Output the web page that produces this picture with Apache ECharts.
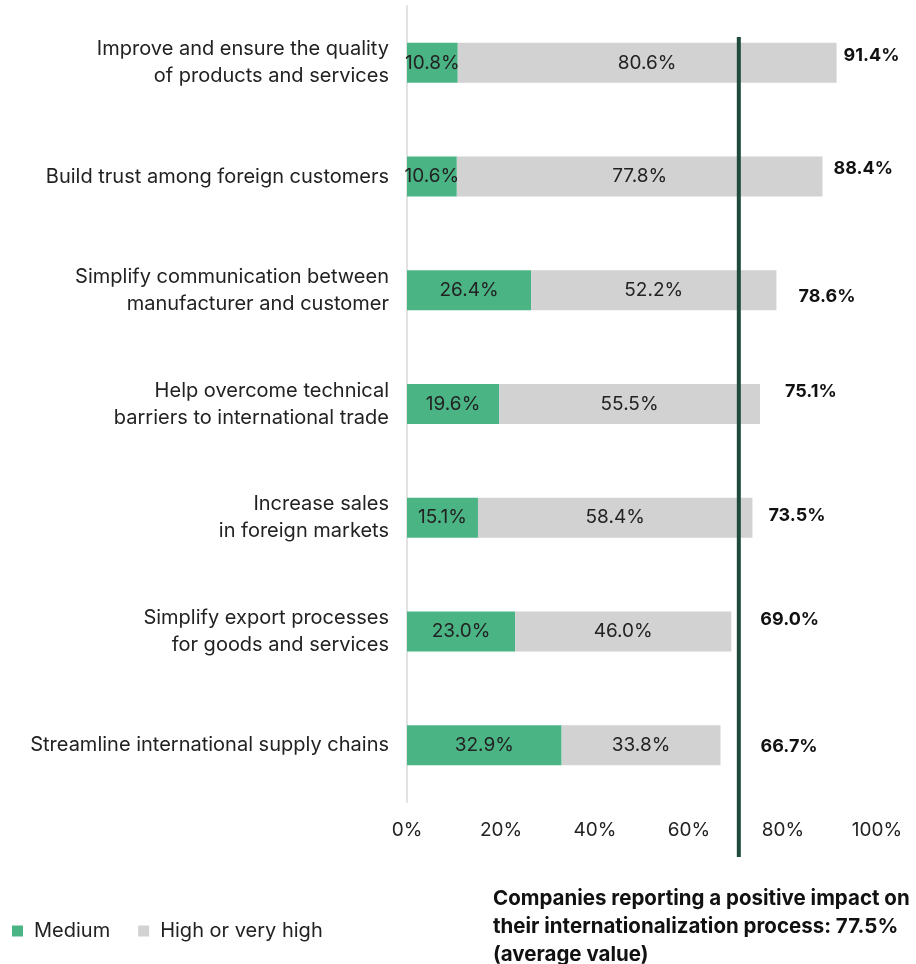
<!DOCTYPE html>
<html>
<head>
<meta charset="utf-8">
<script src="https://cdn.jsdelivr.net/npm/echarts@6/dist/echarts.min.js"></script>
<style>html,body{margin:0;padding:0;background:#fff}#c{width:916px;height:964px}</style>
</head>
<body>
<div id="c"></div>
<script>
const categories = [
  "Improve and ensure the quality\nof products and services",
  "Build trust among foreign customers",
  "Simplify communication between\nmanufacturer and customer",
  "Help overcome technical\nbarriers to international trade",
  "Increase sales\nin foreign markets",
  "Simplify export processes\nfor goods and services",
  "Streamline international supply chains"
];
const mediumValues = [10.8, 10.6, 26.4, 19.6, 15.1, 23.0, 32.9];
const highValues = [80.6, 77.8, 52.2, 55.5, 58.4, 46.0, 33.8];
const totalValues = [91.4, 88.4, 78.6, 75.1, 73.5, 69.0, 66.7];
const seriesNames = ["Medium", "High or very high"];
const xTicks = [0, 20, 40, 60, 80, 100];
const avgLinePosition = 70.6;
const noteText = "Companies reporting a positive impact on\ntheir internationalization process: 77.5%\n(average value)";

// style-only label offsets for total labels [dx, dy]
const totalLabelOffsets = [[0,-7],[4,-8],[15,6],[18,-12],[9,-2],[22,-12],[33,1]];

const FONT = "Inter";
const chart = echarts.init(document.getElementById('c'), null, {renderer: 'canvas'});
const option = {
  animation: false,
  textStyle: {fontFamily: FONT},
  title: {
    text: noteText,
    left: 488, top: 880,
    textStyle: {fontFamily: FONT, fontSize: 20.5, fontWeight: 'bold', color: '#111', lineHeight: 28}
  },
  legend: {
    left: 7, top: 916,
    icon: 'rect', itemWidth: 11, itemHeight: 11, itemGap: 28,
    textStyle: {fontFamily: FONT, fontSize: 20, color: '#222', padding: [0, 0, 0, 6]},
    data: seriesNames
  },
  grid: [
    {left: 407, right: 39, top: 6, bottom: 162, containLabel: false},
    {left: 407, right: 39, top: 37, bottom: 107, containLabel: false}
  ],
  xAxis: [
    {type: 'value', gridIndex: 0, min: 0, max: 100, interval: 20,
     axisLine: {show: false}, axisTick: {show: false}, splitLine: {show: false},
     axisLabel: {fontFamily: FONT, fontSize: 19, color: '#222', margin: 19,
                 formatter: v => xTicks.includes(v) ? v + '%' : ''}},
    {type: 'value', gridIndex: 1, min: 0, max: 100, show: false}
  ],
  yAxis: [
    {type: 'category', gridIndex: 0, data: categories, inverse: true,
     axisLine: {show: true, lineStyle: {color: '#e2e2e2', width: 2}},
     axisTick: {show: false},
     axisLabel: {fontFamily: FONT, fontSize: 20, color: '#222', margin: 18, lineHeight: 27, align: 'right'}},
    {type: 'value', gridIndex: 1, min: 0, max: 1, show: false}
  ],
  series: [
    {name: seriesNames[0], type: 'bar', stack: 't', xAxisIndex: 0, yAxisIndex: 0,
     barWidth: 40, itemStyle: {color: '#4ab485'},
     label: {show: true, position: 'inside', fontFamily: FONT, fontSize: 19, color: '#222',
             formatter: p => p.value.toFixed(1) + '%'},
     data: mediumValues},
    {name: seriesNames[1], type: 'bar', stack: 't', xAxisIndex: 0, yAxisIndex: 0,
     barWidth: 40, itemStyle: {color: '#d2d2d2'},
     label: {show: true, position: 'inside', fontFamily: FONT, fontSize: 19, color: '#222',
             formatter: p => p.value.toFixed(1) + '%'},
     data: highValues},
    {name: 'total', type: 'bar', stack: 't', xAxisIndex: 0, yAxisIndex: 0,
     barWidth: 40, itemStyle: {color: 'rgba(0,0,0,0)'},
     silent: true,
     data: totalValues.map((t, i) => ({
       value: 0,
       label: {show: true, position: 'right', distance: 7,
               offset: totalLabelOffsets[i],
               fontFamily: FONT, fontSize: 18, fontWeight: 'bold', color: '#111',
               formatter: () => t.toFixed(1) + '%'}
     }))},
    {name: 'avg', type: 'line', xAxisIndex: 1, yAxisIndex: 1, symbol: 'none', silent: true,
     lineStyle: {color: '#1f4a3c', width: 4},
     data: [[avgLinePosition, 0], [avgLinePosition, 1]]}
  ]
};
chart.setOption(option);
</script>
</body>
</html>
